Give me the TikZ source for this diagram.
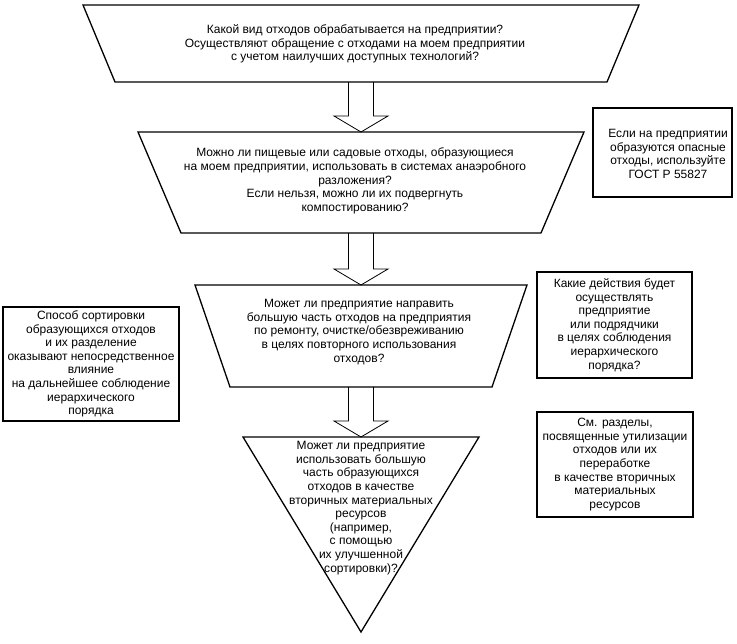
\documentclass[tikz,border=0pt]{standalone}
\usepackage{fontspec}
\setmainfont{Liberation Sans}
\usetikzlibrary{calc}
\begin{document}
\begin{tikzpicture}[x=1pt,y=-1pt,
  frame/.style={draw, line width=1.3pt, line join=miter},
  txt/.style={align=center, inner sep=0pt, font=\fontsize{12}{13.6}\selectfont},
  sidebox/.style={draw, line width=1.5pt, inner sep=0pt},
  blk/.style={draw, line width=0.8pt, line join=miter}]
\useasboundingbox (0,0) rectangle (737,644);

% trapezoid 1
\coordinate (a1) at (83,5);   \coordinate (a2) at (639,5);
\coordinate (a3) at (607,82); \coordinate (a4) at (115,82);
\draw[frame] (a1) -- (a2) -- (a3) -- (a4) -- cycle;
\coordinate (a-bot) at (361,82);
\node[txt] (q1) at (355,44) {Какой вид отходов обрабатывается на предприятии?\\
Осуществляют обращение с отходами на моем предприятии\\
с учетом наилучших доступных технологий?};

% trapezoid 2
\coordinate (b1) at (138,132); \coordinate (b2) at (584,132);
\coordinate (b3) at (541,233); \coordinate (b4) at (181,233);
\draw[frame] (b1) -- (b2) -- (b3) -- (b4) -- cycle;
\coordinate (b-top) at (361,132); \coordinate (b-bot) at (361,233);
\node[txt] (q2) at (355,181) {Можно ли пищевые или садовые отходы, образующиеся\\
на моем предприятии, использовать в системах анаэробного\\
разложения?\\
Если нельзя, можно ли их подвергнуть\\
компостированию?};

% trapezoid 3
\coordinate (c1) at (195,285); \coordinate (c2) at (527,285);
\coordinate (c3) at (492,387); \coordinate (c4) at (230,387);
\draw[frame] (c1) -- (c2) -- (c3) -- (c4) -- cycle;
\coordinate (c-top) at (361,285); \coordinate (c-bot) at (361,387);
\node[txt] (q3) at (359,332) {Может ли предприятие направить\\
большую часть отходов на предприятия\\
по ремонту, очистке/обезвреживанию\\
в целях повторного использования\\
отходов?};

% triangle
\coordinate (d1) at (243,437); \coordinate (d2) at (479,437);
\coordinate (d3) at (361,632);
\draw[frame] (d1) -- (d2) -- (d3) -- cycle;
\coordinate (d-top) at (361,437);
\node[txt] (q4) at (361,508) {Может ли предприятие\\
использовать большую\\
часть образующихся\\
отходов в качестве\\
вторичных материальных\\
ресурсов\\
(например,\\
с помощью\\
их улучшенной\\
сортировки)?};

% block arrows
\foreach \f/\t in {a-bot/b-top, b-bot/c-top, c-bot/d-top}{
  \draw[blk] ($(\f)+(-12.5,0)$) -- ($(\t)+(-12.5,-16)$) -- ($(\t)+(-27,-16)$)
    -- (\t) -- ($(\t)+(27,-16)$) -- ($(\t)+(12.5,-16)$) -- ($(\f)+(12.5,0)$);
}

% side boxes
\node[sidebox, minimum width=139pt, minimum height=89pt] (sa) at (662.5,152.5) {};
\node[txt] (sat) at (668,154) {Если на предприятии\\
образуются опасные\\
отходы, используйте\\
ГОСТ Р 55827};

\node[sidebox, minimum width=155pt, minimum height=106pt, txt] (sb) at (614.5,325) {Какие действия будет\\
осуществлять\\
предприятие\\
или подрядчики\\
в целях соблюдения\\
иерархического\\
порядка?};

\node[sidebox, minimum width=176pt, minimum height=114pt, txt] (sc) at (91,364) {Способ сортировки\\
образующихся отходов\\
и их разделение\\
оказывают непосредственное\\
влияние\\
на дальнейшее соблюдение\\
иерархического\\
порядка};

\node[sidebox, minimum width=156pt, minimum height=105pt, txt] (sd) at (615,464.5) {См. разделы,\\
посвященные утилизации\\
отходов или их\\
переработке\\
в качестве вторичных\\
материальных\\
ресурсов};
\end{tikzpicture}
\end{document}
